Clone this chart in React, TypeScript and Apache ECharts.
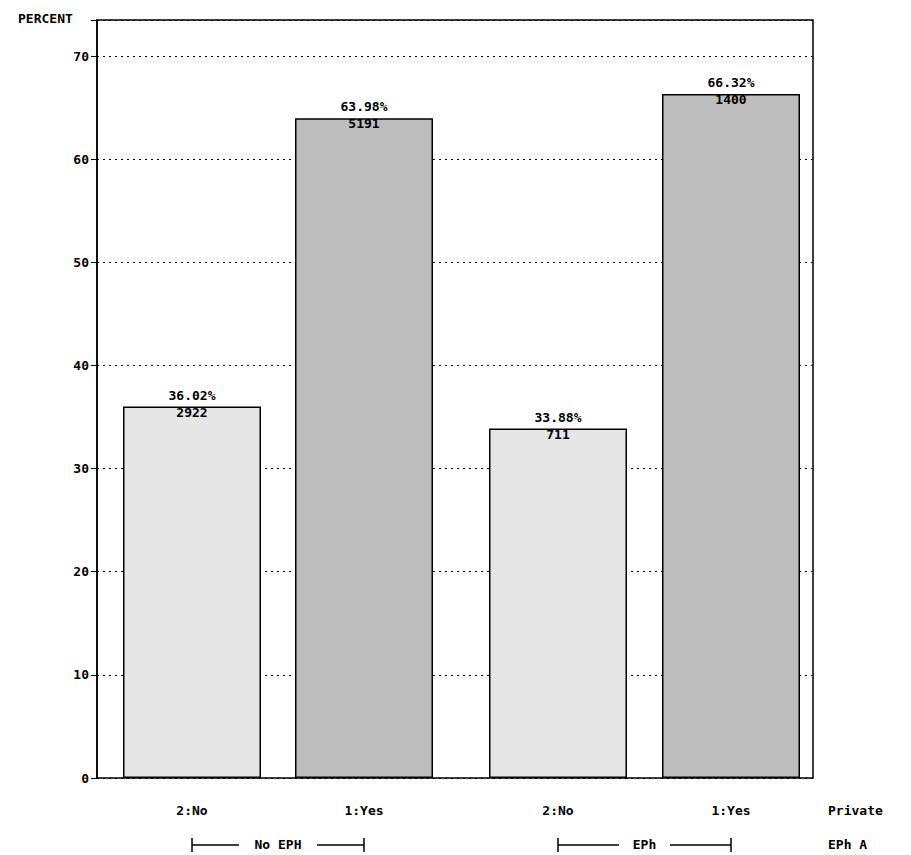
import { useEffect, useRef } from 'react'
import * as echarts from 'echarts'

const categories = ['2:No', '1:Yes', '2:No', '1:Yes']
const groups = ['No EPH', 'EPh']
const percents = [36.02, 63.98, 33.88, 66.32]
const counts = [2922, 5191, 711, 1400]
// horizontal slot positions (midpoint axis units)
const slots = [95, 267, 461, 634]
const yTicks = [0, 10, 20, 30, 40, 50, 60, 70]

const FONT = 'DejaVu Sans Mono'

const App: React.FC = () => {
  const ref = useRef<HTMLDivElement>(null)

  useEffect(() => {
    document.body.style.margin = '0'
    if (!ref.current) return
    const chart = echarts.init(ref.current, undefined, { renderer: 'svg' })
    const fills = ['#e6e6e6', '#bdbdbd', '#e6e6e6', '#bdbdbd']

    const textStyle = { fontFamily: FONT, fontSize: 13, fontWeight: 'bold' as const, fill: '#000' }
    const graphics: any[] = [
      { type: 'text', left: 18, top: 12, style: { ...textStyle, text: 'PERCENT' } },
      { type: 'text', left: 828, top: 804, style: { ...textStyle, text: 'Private' } },
      { type: 'text', left: 828, top: 838, style: { ...textStyle, text: 'EPh A' } },
    ]
    categories.forEach((c, i) => {
      graphics.push({
        type: 'text', x: 97 + slots[i], y: 804,
        style: { ...textStyle, text: c, textAlign: 'center' },
      })
    })
    const groupSpans = [[192, 364], [558, 731]]
    groups.forEach((g, i) => {
      const [a, b] = groupSpans[i]
      const mid = (a + b) / 2
      const half = g.length * 4.5 + 12
      graphics.push(
        { type: 'text', x: mid, y: 838, style: { ...textStyle, text: g, textAlign: 'center' } },
        { type: 'line', shape: { x1: a, y1: 845, x2: mid - half, y2: 845 }, style: { stroke: '#000', lineWidth: 1.5 } },
        { type: 'line', shape: { x1: mid + half, y1: 845, x2: b, y2: 845 }, style: { stroke: '#000', lineWidth: 1.5 } },
        { type: 'line', shape: { x1: a, y1: 838, x2: a, y2: 852 }, style: { stroke: '#000', lineWidth: 1.5 } },
        { type: 'line', shape: { x1: b, y1: 838, x2: b, y2: 852 }, style: { stroke: '#000', lineWidth: 1.5 } },
      )
    })

    chart.setOption({
      animation: false,
      backgroundColor: '#fff',
      grid: { left: 97, right: 98, top: 20, bottom: 77, show: true, borderColor: '#000', borderWidth: 1.5 },
      xAxis: {
        type: 'value', min: 0, max: 716, show: false,
      },
      yAxis: {
        type: 'value', min: 0, max: 73.5, interval: 10,
        axisLine: { show: true, lineStyle: { color: '#000', width: 1.5 } },
        axisTick: { show: true, length: 6, lineStyle: { color: '#000' } },
        axisLabel: {
          fontFamily: FONT, fontSize: 13, fontWeight: 'bold', color: '#000',
          formatter: (v: number) => (yTicks.includes(v) ? String(v) : ''),
        },
        splitLine: { show: true, lineStyle: { color: '#000', type: [2, 4], width: 1 } },
      },
      series: [
        {
          type: 'bar',
          barWidth: 138,
          data: percents.map((p, i) => ({
            value: [slots[i], p],
            itemStyle: { color: fills[i], borderColor: '#000', borderWidth: 1.5 },
          })),
          label: {
            show: true, position: 'insideTop', distance: -20,
            fontFamily: FONT, fontSize: 13, fontWeight: 'bold', color: '#000', lineHeight: 17,
            formatter: (p: any) => `${percents[p.dataIndex].toFixed(2)}%\n${counts[p.dataIndex]}`,
          },
        },
      ],
      graphic: graphics,
    })
    return () => chart.dispose()
  }, [])

  return <div ref={ref} style={{ width: 911, height: 855 }} />
}

export default App
